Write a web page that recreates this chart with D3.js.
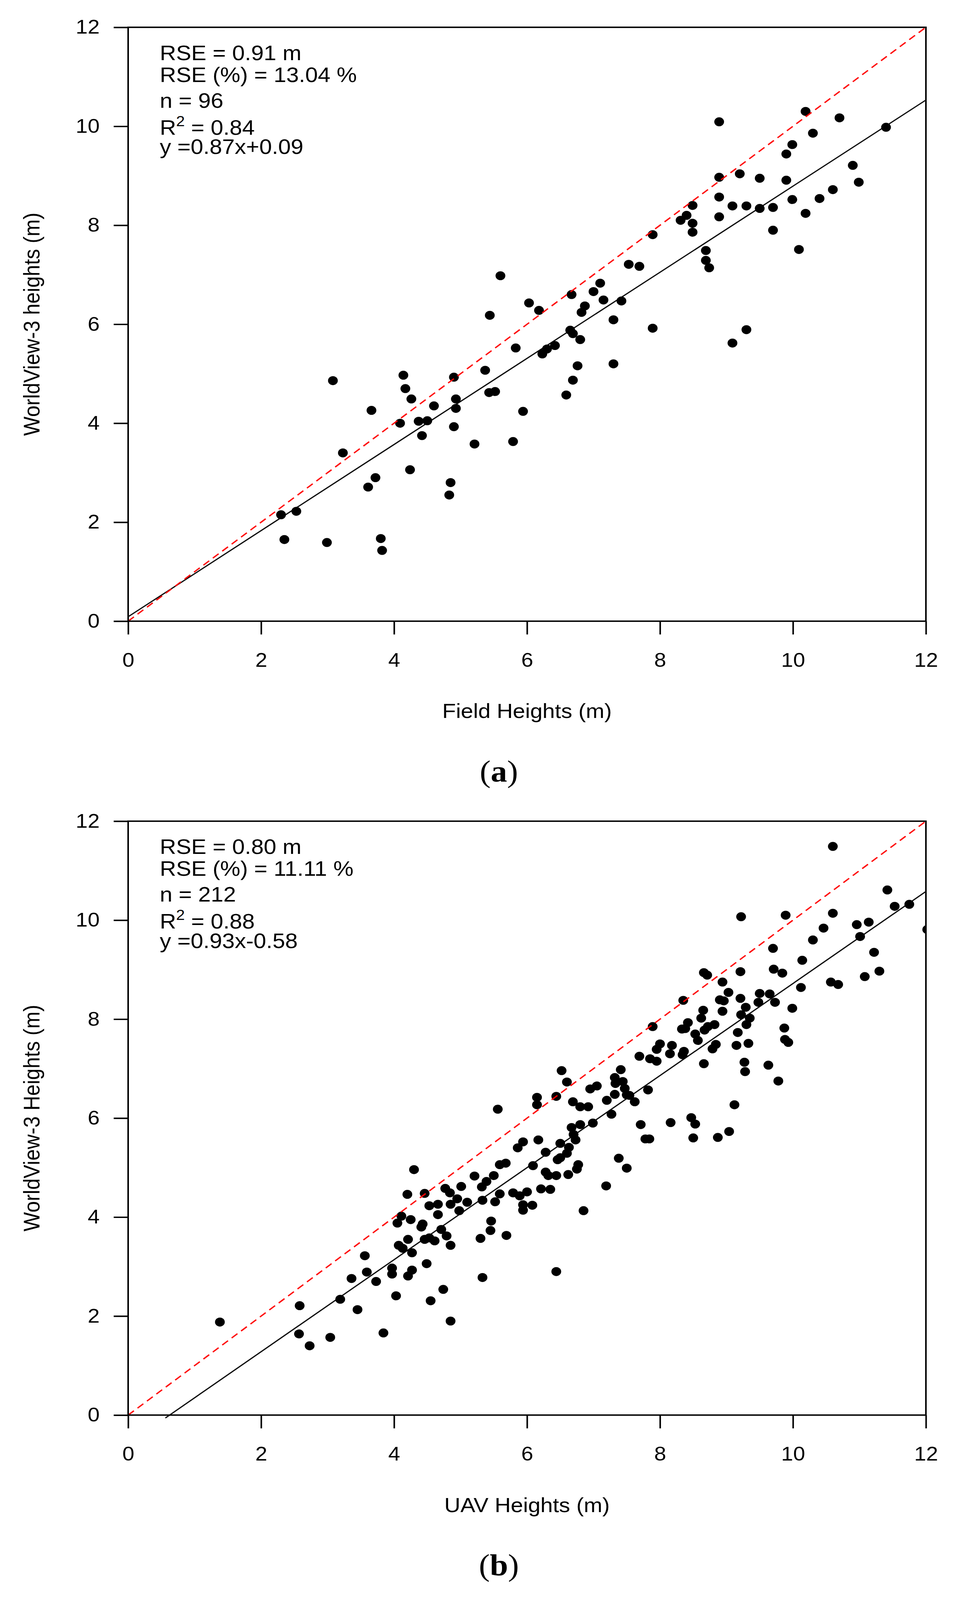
<!DOCTYPE html>
<html lang="en">
<head>
<meta charset="UTF-8">
<title>WorldView-3 heights</title>
<script src="https://cdn.jsdelivr.net/npm/d3@7/dist/d3.min.js"></script>
<style>
	html, body { margin: 0; padding: 0; background: #fff; overflow: hidden; }
	svg { display: block; }
	text { font-family: "Liberation Sans", Arial, sans-serif; fill: #000; }
</style>
</head>
<body>
<svg id="chart" viewBox="0 0 2447 4456" preserveAspectRatio="none"></svg>
<script>
// axis ticks shared by both panels
const ticks = [0, 2, 4, 6, 8, 10, 12];

// (a) field height vs WorldView-3 height, [x, y]
const fieldPts = [
	[2.30,2.15],[2.35,1.65],[2.53,2.22],[2.99,1.59],[3.08,4.86],[3.23,3.40],[3.61,2.71],[3.66,4.26],
	[3.72,2.90],[3.80,1.67],[3.82,1.43],[4.09,4.00],[4.14,4.97],[4.17,4.70],[4.24,3.06],[4.26,4.49],
	[4.37,4.04],[4.42,3.75],[4.50,4.05],[4.60,4.35],[4.83,2.55],[4.85,2.80],[4.90,4.93],[4.90,3.93],
	[4.93,4.49],[4.93,4.30],[5.21,3.58],[5.37,5.07],[5.44,6.18],[5.43,4.62],[5.52,4.64],[5.60,6.98],
	[5.79,3.63],[5.83,5.52],[5.94,4.24],[6.03,6.43],[6.18,6.28],[6.23,5.40],[6.30,5.50],[6.42,5.57],
	[6.59,4.57],[6.65,5.88],[6.67,6.60],[6.69,5.81],[6.69,4.87],[6.76,5.16],[6.80,5.69],[6.82,6.24],
	[6.87,6.37],[7.00,6.66],[7.10,6.83],[7.15,6.49],[7.30,6.09],[7.30,5.20],[7.42,6.47],[7.53,7.21],
	[7.69,7.17],[7.89,7.81],[7.89,5.92],[8.31,8.10],[8.40,8.20],[8.49,8.40],[8.49,8.04],[8.49,7.86],
	[8.69,7.49],[8.69,7.29],[8.74,7.14],[8.89,10.09],[8.89,8.97],[8.89,8.57],[8.89,8.17],[9.09,8.39],
	[9.09,5.62],[9.20,9.04],[9.30,8.39],[9.30,5.89],[9.50,8.95],[9.50,8.34],[9.70,8.36],[9.70,7.90],
	[9.90,9.44],[9.90,8.91],[9.99,9.63],[9.99,8.52],[10.09,7.51],[10.19,10.30],[10.19,8.24],[10.30,9.86],
	[10.40,8.54],[10.60,8.72],[10.70,10.17],[10.90,9.21],[10.99,8.87],[11.40,9.98]
];

// (b) UAV height vs WorldView-3 height, [x, y]
const uavPts = [
	[1.38,1.88],[2.57,1.64],[2.58,2.21],[2.73,1.40],[3.04,1.57],[3.19,2.34],[3.36,2.76],[3.45,2.13],
	[3.56,3.22],[3.59,2.89],[3.73,2.70],[3.84,1.66],[3.97,2.97],[3.97,2.85],[4.03,2.41],[4.05,3.88],
	[4.11,4.02],[4.07,3.43],[4.13,3.37],[4.20,4.46],[4.21,3.55],[4.21,2.81],[4.25,3.95],[4.27,3.28],
	[4.27,2.93],[4.30,4.96],[4.46,4.48],[4.41,3.80],[4.43,3.86],[4.46,3.55],[4.49,3.06],[4.53,4.23],
	[4.53,3.58],[4.55,2.31],[4.61,3.52],[4.66,4.26],[4.66,4.05],[4.71,3.75],[4.74,2.54],[4.77,4.58],
	[4.79,3.62],[4.84,4.49],[4.85,4.26],[4.85,3.43],[4.85,1.90],[4.95,4.37],[4.98,4.13],[5.01,4.62],
	[5.10,4.30],[5.21,4.83],[5.30,3.57],[5.32,4.61],[5.33,4.34],[5.33,2.78],[5.39,4.72],[5.46,3.92],
	[5.45,3.73],[5.50,4.84],[5.52,4.31],[5.56,6.18],[5.59,4.47],[5.59,5.06],[5.68,5.09],[5.69,3.63],
	[5.79,4.49],[5.86,5.40],[5.89,4.43],[5.94,5.52],[5.94,4.25],[5.94,4.14],[6.00,4.51],[6.08,4.24],
	[6.09,5.04],[6.15,6.42],[6.15,6.27],[6.17,5.56],[6.21,4.57],[6.28,5.31],[6.28,4.91],
	[6.52,6.96],[6.60,6.73],[6.44,6.44],[6.95,6.59],[7.05,6.65],[6.69,6.33],[6.80,6.23],[6.92,6.23],
	[7.41,6.98],[7.32,6.82],[7.44,6.74],[7.33,6.70],[7.47,6.60],[7.32,6.48],[7.20,6.36],[7.50,6.47],
	[7.54,6.46],[7.62,6.33],[7.82,6.57],[7.27,6.08],[7.69,7.25],[7.85,7.20],[7.95,7.15],[7.95,7.39],
	[8.00,7.50],[8.18,7.47],[8.15,7.30],[7.89,7.85],
	[9.12,6.27],[8.47,6.01],[8.53,5.88],[8.16,5.91],[7.71,5.87],[7.78,5.58],[7.84,5.58],[8.50,5.60],
	[8.87,5.61],[9.04,5.73],[7.38,5.19],[7.50,4.99],[7.19,4.63],[6.85,4.13],[6.44,2.90],
	[6.99,5.90],[6.80,5.87],[6.67,5.81],[6.70,5.67],[6.73,5.56],[6.50,5.49],[6.63,5.41],[6.60,5.29],
	[6.50,5.20],[6.46,5.16],[6.77,5.06],[6.75,4.97],[6.32,4.84],[6.44,4.84],[6.62,4.86],[6.35,4.56],
	[8.94,8.16],[8.38,7.81],
	[10.60,11.49],[11.42,10.61],[11.53,10.28],[11.75,10.32],[12.02,9.81],[9.22,10.07],[9.89,10.10],[10.60,10.14],
	[10.96,9.91],[11.14,9.96],[11.01,9.67],[10.46,9.84],[10.30,9.60],[9.70,9.43],[11.22,9.35],[10.14,9.19],
	[9.71,9.01],[9.84,8.93],[11.30,8.97],[11.08,8.86],[10.57,8.75],[10.68,8.70],[10.12,8.64],[8.66,8.94],
	[8.71,8.89],[9.21,8.96],[8.94,8.75],[9.03,8.54],[8.35,8.38],[8.90,8.39],[8.96,8.37],[9.21,8.42],
	[9.50,8.52],[9.65,8.51],[9.48,8.34],[9.73,8.34],[9.99,8.22],[9.29,8.24],[8.65,8.18],[8.62,8.02],
	[9.22,8.09],[9.35,8.02],[8.42,7.93],[8.33,7.80],[9.30,7.89],[8.82,7.89],[8.72,7.85],[8.67,7.78],
	[8.53,7.70],[8.57,7.57],[9.17,7.73],[9.87,7.82],[9.88,7.59],[9.93,7.53],[8.84,7.49],[8.79,7.40],
	[9.15,7.47],[9.33,7.51],[8.36,7.35],[8.34,7.28],[8.66,7.10],[9.27,7.13],[9.28,6.94],[9.63,7.07],
	[9.78,6.75]
];

// regression fits: [slope, intercept, x start]
const fitA = [0.87, 0.09, 0];
const fitB = [0.93, -0.58, 0.56];

// annotation lines (the R² line is split into label and value)
const statsA = ["RSE = 0.91 m", "RSE (%) = 13.04 %", "n = 96", "0.84", "y =0.87x+0.09"];
const statsB = ["RSE = 0.80 m", "RSE (%) = 11.11 %", "n = 212", "0.88", "y =0.93x-0.58"];

const panels = [
	{ id: 'a', pts: fieldPts, fit: fitA, stats: statsA, y0: 1730,
	  xTitle: 'Field Heights (m)', yTitle: 'WorldView-3 heights (m)' },
	{ id: 'b', pts: uavPts, fit: fitB, stats: statsB, y0: 3941,
	  xTitle: 'UAV Heights (m)', yTitle: 'WorldView-3 Heights (m)' }
];

// the drawing is laid out on a 2447 x 4456 canvas and stretched to fill the window
const svg = d3.select('#chart')
	.attr('width', window.innerWidth || 2447)
	.attr('height', window.innerHeight || 4456);

const left = 328, right = 2370, plotH = 1654;
const line = d3.line();

panels.forEach(p => {
	const x = d3.scaleLinear().domain([0, 12]).range([left, right]);
	const y = d3.scaleLinear().domain([0, 12]).range([p.y0, p.y0 - plotH]);
	const g = svg.append('g');

	g.append('clipPath').attr('id', 'clip-' + p.id)
		.append('rect')
		.attr('x', left).attr('y', y(12))
		.attr('width', right - left).attr('height', plotH);

	// points
	g.append('g')
		.attr('clip-path', 'url(#clip-' + p.id + ')')
		.selectAll('circle')
		.data(p.pts)
		.enter()
		.append('circle')
		.attr('cx', d => x(d[0]))
		.attr('cy', d => y(d[1]))
		.attr('r', 12.5)
		.attr('fill', '#000');

	// fitted line
	const [m, c, x0] = p.fit;
	g.append('path')
		.attr('d', line([[x(x0), y(m * x0 + c)], [x(12), y(m * 12 + c)]]))
		.attr('stroke', '#000')
		.attr('stroke-width', 3.2)
		.attr('fill', 'none');

	// 1:1 line
	g.append('path')
		.attr('d', line([[x(0), y(0)], [x(12), y(12)]]))
		.attr('stroke', '#ff0000')
		.attr('stroke-width', 3.6)
		.attr('stroke-dasharray', '19,12')
		.attr('fill', 'none');

	// axes
	const xAxis = g.append('g')
		.attr('transform', 'translate(0,' + p.y0 + ')')
		.call(d3.axisBottom(x).tickValues(ticks).tickSize(37).tickPadding(51).tickFormat(d3.format('d')));
	const yAxis = g.append('g')
		.attr('transform', 'translate(' + left + ',0)')
		.call(d3.axisLeft(y).tickValues(ticks).tickSize(37).tickPadding(36).tickFormat(d3.format('d')));
	[xAxis, yAxis].forEach(a => {
		a.select('.domain').remove();
		a.selectAll('line').attr('stroke', '#000').attr('stroke-width', 4);
		a.selectAll('text')
			.attr('font-family', '"Liberation Sans", Arial, sans-serif')
			.attr('font-size', 55)
			.attr('fill', '#000');
	});

	// frame
	g.append('rect')
		.attr('x', left).attr('y', y(12))
		.attr('width', right - left).attr('height', plotH)
		.attr('fill', 'none')
		.attr('stroke', '#000')
		.attr('stroke-width', 4);

	// stats text
	const top = y(12);
	const tx = left + 81;
	const offs = [91, 152, 224, 299, 353];
	p.stats.forEach((s, i) => {
		const t = g.append('text')
			.attr('x', tx)
			.attr('y', top + offs[i])
			.attr('font-size', 58);
		if (i === 3) {
			t.append('tspan').text('R');
			t.append('tspan').attr('font-size', 40).attr('dy', -24).text('2');
			t.append('tspan').attr('dy', 24).text(' = ' + s);
		} else {
			t.text(s);
		}
	});

	// axis titles
	g.append('text')
		.attr('x', (left + right) / 2)
		.attr('y', p.y0 + 270)
		.attr('text-anchor', 'middle')
		.attr('font-size', 57)
		.text(p.xTitle);
	g.append('text')
		.attr('transform', 'translate(101,' + (p.y0 - plotH / 2) + ') rotate(-90)')
		.attr('text-anchor', 'middle')
		.attr('font-size', 57)
		.text(p.yTitle);

	// panel label
	const lab = g.append('text')
		.attr('x', 1277)
		.attr('y', p.y0 + 447)
		.attr('text-anchor', 'middle')
		.attr('font-size', 84)
		.style('font-family', '"Liberation Serif", "Times New Roman", serif');
	lab.append('tspan').text('(');
	lab.append('tspan').attr('font-weight', 'bold').text(p.id);
	lab.append('tspan').text(')');
});
</script>
</body>
</html>
